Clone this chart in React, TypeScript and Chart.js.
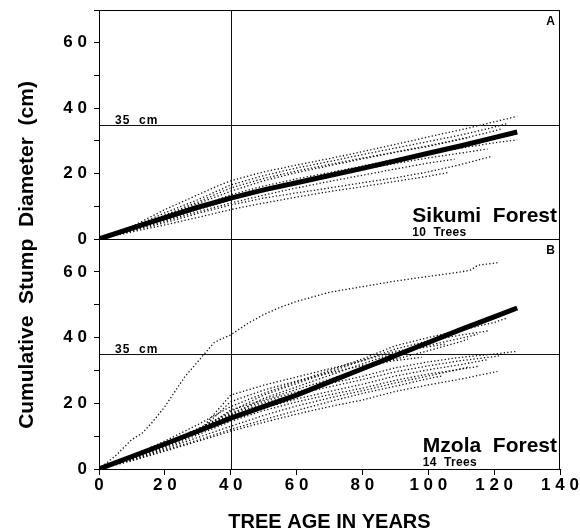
import React, { useEffect, useRef } from 'react';
import { Chart, registerables } from 'chart.js';

Chart.register(...registerables);

type Pt = [number, number];

// ---- axis ticks ----
const xTickValues = [0, 20, 40, 60, 80, 100, 120, 140];
const xTickLabels = ['0', '2 0', '4 0', '6 0', '8 0', '1 0 0', '1 2 0', '1 4 0'];
const yTickValues = [0, 20, 40, 60];
const yTickLabels = ['0', '2 0', '4 0', '6 0'];

// ---- reference lines ----
const referenceAge = 40;
const referenceDiameter = 35;
const referenceLabel = '35  cm';

// ---- titles ----
const yTitle = 'Cumulative  Stump  Diameter  (cm)';
const xTitle = 'TREE AGE IN YEARS';

// ---- Panel A: Sikumi Forest ----
const sikumiLetter = 'A';
const sikumiName = 'Sikumi  Forest';
const sikumiCount = '10  Trees';
const sikumiMean: Pt[] = [[0, 0], [10, 3.3], [20, 6.5], [30, 9.7], [40, 12.5], [50, 15], [60, 17.2], [70, 19.4], [80, 21.6], [90, 23.9], [100, 26.2], [110, 28.5], [120, 31], [127, 32.7]];
const sikumiTree1: Pt[] = [[0, 0], [10, 3.8], [20, 9], [30, 13.5], [36, 16.2], [40, 17.8], [50, 20.5], [60, 22.6], [70, 24.6], [80, 26.7], [90, 28.9], [100, 31.2], [110, 33.4], [120, 35.8], [127, 37.5]];
const sikumiTree2: Pt[] = [[0, 0], [10, 3.5], [20, 8], [30, 12], [40, 16.5], [50, 19.4], [60, 21.7], [70, 23.7], [80, 25.8], [90, 27.8], [100, 29.8], [110, 31.8], [120, 34.2], [124, 35.3]];
const sikumiTree3: Pt[] = [[0, 0], [10, 3], [20, 7.3], [30, 11.3], [40, 15.6], [50, 18.5], [60, 20.8], [70, 22.8], [80, 24.7], [90, 26.6], [100, 28.5], [110, 30.6], [120, 33], [122, 33.6]];
const sikumiTree4: Pt[] = [[0, 0], [10, 2.8], [20, 6.2], [30, 9.8], [40, 13.5], [50, 16.2], [60, 18.4], [70, 20.3], [80, 22.3], [90, 24.4], [100, 26.2], [110, 27.8], [120, 29.4], [127, 30.3]];
const sikumiTree5: Pt[] = [[0, 0], [10, 3], [20, 6.5], [30, 9.5], [40, 12.8], [50, 15.4], [60, 17.6], [70, 19.5], [80, 21.3], [90, 23.1], [100, 24.8], [110, 26.3], [118, 27.5]];
const sikumiTree6: Pt[] = [[0, 0], [10, 2.5], [20, 5], [30, 7.8], [40, 10.4], [50, 12.5], [60, 14.1], [70, 15.6], [80, 17.2], [90, 18.7], [100, 20.5], [110, 22.8], [119, 25.2]];
const sikumiTree7: Pt[] = [[0, 0], [10, 3.3], [20, 7], [30, 10.8], [40, 14.6], [50, 17.8], [60, 20.3], [70, 22.4], [80, 24.5], [90, 26.5], [100, 28.3], [110, 30.5], [112, 31]];
const sikumiTree8: Pt[] = [[0, 0], [10, 2.7], [20, 5.8], [30, 9], [40, 12], [50, 14.8], [60, 17.3], [70, 19.6], [80, 21.8], [90, 24], [100, 26.5], [105, 27.8]];
const sikumiTree9: Pt[] = [[0, 0], [10, 2.2], [20, 4.3], [30, 6.6], [40, 9], [50, 11], [60, 12.8], [70, 14.5], [80, 16], [90, 17.6], [100, 19.2], [106, 20.3]];
const sikumiTree10: Pt[] = [[0, 0], [10, 2.6], [20, 5.5], [30, 8.3], [40, 11], [50, 13.4], [60, 15.6], [70, 17.6], [80, 19.5], [90, 21.4], [100, 23.2], [108, 24.4]];
const sikumiTrees: Pt[][] = [sikumiTree1, sikumiTree2, sikumiTree3, sikumiTree4, sikumiTree5, sikumiTree6, sikumiTree7, sikumiTree8, sikumiTree9, sikumiTree10];

// ---- Panel B: Mzola Forest ----
const mzolaLetter = 'B';
const mzolaName = 'Mzola  Forest';
const mzolaCount = '14  Trees';
const mzolaMean: Pt[] = [[0, 0], [10, 3.8], [20, 7.6], [30, 11.5], [40, 15.5], [50, 19], [60, 22.5], [70, 26.5], [80, 30.5], [90, 34.5], [100, 38.5], [110, 42.5], [120, 46.3], [127, 49]];
const mzolaTree1: Pt[] = [[0, 0], [5, 4], [10, 9], [13, 10.8], [16, 14], [20, 19], [23, 23.5], [26, 28], [29, 31.5], [32, 35], [35, 38.5], [37, 39.5], [40, 40.8], [45, 44.2], [50, 47], [55, 49.2], [60, 51], [70, 53.8], [80, 55.5], [90, 57.2], [100, 58.6], [110, 60], [113, 60.6], [115, 62], [121, 62.8]];
const mzolaTree2: Pt[] = [[0, 0], [10, 4], [20, 8.5], [30, 13.5], [40, 19], [50, 23], [60, 26.5], [70, 30], [80, 33.5], [90, 37.5], [100, 40], [110, 42.3], [120, 44.6], [124, 46]];
const mzolaTree3: Pt[] = [[0, 0], [10, 3.6], [20, 7.8], [30, 12], [40, 17.5], [50, 22.5], [60, 26], [70, 29.5], [80, 33], [90, 36.5], [100, 39], [110, 40.8], [118, 42]];
const mzolaTree4: Pt[] = [[0, 0], [10, 3.5], [20, 7.5], [30, 11.5], [40, 16.5], [50, 21.5], [60, 25], [70, 28.5], [80, 32], [90, 35.3], [100, 37.6], [110, 39.8], [115, 41]];
const mzolaTree5: Pt[] = [[0, 0], [10, 3.3], [20, 7], [30, 11], [40, 18], [50, 21], [60, 24.2], [70, 27.3], [80, 30.5], [90, 33.4], [100, 36], [110, 38.8], [112, 39.5]];
const mzolaTree6: Pt[] = [[0, 0], [10, 3.6], [20, 7.8], [30, 12.3], [40, 17], [50, 20.6], [60, 23.5], [70, 26], [80, 28.2], [90, 30.8], [100, 32.6], [110, 34], [120, 35], [127, 35.8]];
const mzolaTree7: Pt[] = [[0, 0], [10, 3.5], [20, 7.5], [30, 12], [40, 16.5], [50, 20], [60, 22.8], [70, 25], [80, 27.2], [90, 29.6], [100, 31.4], [110, 33], [120, 34.2], [122, 34.5]];
const mzolaTree8: Pt[] = [[0, 0], [10, 3.2], [20, 7], [30, 11], [40, 15], [50, 18.5], [60, 21.3], [70, 23.6], [80, 25.8], [90, 28.3], [100, 30.2], [110, 31.8], [118, 33.3]];
const mzolaTree9: Pt[] = [[0, 0], [10, 2.8], [20, 6.2], [30, 9.6], [40, 13], [50, 16.3], [60, 19.2], [70, 21.6], [80, 23.8], [90, 26.2], [100, 28.3], [110, 30.5], [112, 31]];
const mzolaTree10: Pt[] = [[0, 0], [10, 3.2], [20, 7], [30, 11], [40, 20.5], [50, 24], [60, 26.8], [70, 29.2], [80, 31.5], [90, 33], [98, 34]];
const mzolaTree11: Pt[] = [[0, 0], [10, 2.5], [20, 5.4], [30, 8.4], [40, 11.5], [50, 14.2], [60, 16.7], [70, 19], [80, 21], [90, 23.6], [100, 25.6], [110, 27.4], [121, 29.7]];
const mzolaTree12: Pt[] = [[0, 0], [10, 3.4], [20, 7.2], [30, 11], [40, 22.5], [50, 25.5], [60, 28], [70, 30.5], [80, 33], [90, 35.8], [100, 37.2], [105, 38]];
const mzolaTree13: Pt[] = [[0, 0], [10, 3], [20, 6.5], [30, 10.4], [40, 14.5], [50, 17.8], [60, 20.4], [70, 22.6], [80, 24.6], [90, 27], [100, 28.9], [110, 30.4], [115, 31.2]];
const mzolaTree14: Pt[] = [[0, 0], [10, 2.7], [20, 5.8], [30, 8.8], [40, 12], [50, 15], [60, 17.8], [70, 20.5], [80, 23], [90, 25.2], [100, 27.5], [104, 28.3]];
const mzolaTrees: Pt[][] = [mzolaTree1, mzolaTree2, mzolaTree3, mzolaTree4, mzolaTree5, mzolaTree6, mzolaTree7, mzolaTree8, mzolaTree9, mzolaTree10, mzolaTree11, mzolaTree12, mzolaTree13, mzolaTree14];

const FONT = '"Liberation Sans", Arial, Helvetica, sans-serif';
const W = 580;
const H = 532;

type Panel = {
  letter: string;
  name: string;
  count: string;
  mean: Pt[];
  trees: Pt[][];
  top: number;
  bottom: number;
  showX: boolean;
  drawTitles: boolean;
};

function decorPlugin(p: Panel) {
  return {
    id: 'panelDecor',
    beforeDatasetsDraw(chart: any) {
      const { ctx, chartArea: a, scales } = chart;
      const xr = Math.round(scales.x.getPixelForValue(referenceAge)) + 0.5;
      const yr = Math.round(scales.y.getPixelForValue(referenceDiameter)) + 0.5;
      ctx.save();
      ctx.strokeStyle = '#111';
      ctx.lineWidth = 1;
      ctx.beginPath();
      ctx.moveTo(xr, a.top);
      ctx.lineTo(xr, a.bottom);
      ctx.moveTo(a.left, yr);
      ctx.lineTo(a.right, yr);
      ctx.stroke();
      ctx.strokeStyle = '#000';
      ctx.strokeRect(Math.round(a.left) + 0.5, Math.round(a.top) + 0.5, Math.round(a.right - a.left) - 1, Math.round(a.bottom - a.top));
      // 35 cm label
      ctx.fillStyle = '#000';
      ctx.font = `bold 12px ${FONT}`;
      (ctx as any).letterSpacing = '1px';
      ctx.textAlign = 'left';
      ctx.textBaseline = 'alphabetic';
      ctx.fillText(referenceLabel, a.left + 16, yr - 2);
      ctx.restore();
    },
    afterDraw(chart: any) {
      const { ctx, chartArea: a } = chart;
      ctx.save();
      ctx.fillStyle = '#000';
      ctx.textBaseline = 'alphabetic';
      (ctx as any).letterSpacing = '0px';
      // panel letter
      ctx.font = `bold 12px ${FONT}`;
      ctx.textAlign = 'right';
      ctx.fillText(p.letter, a.right - 5, a.top + 15);
      // forest name
      ctx.font = `bold 21px ${FONT}`;
      ctx.textAlign = 'right';
      const nameRight = a.right - 3;
      const nameBase = a.bottom - 17;
      ctx.fillText(p.name, nameRight, nameBase);
      const nw = ctx.measureText(p.name).width;
      ctx.font = `bold 12px ${FONT}`;
      (ctx as any).letterSpacing = '0.3px';
      ctx.textAlign = 'left';
      ctx.fillText(p.count, nameRight - nw, a.bottom - 3);
      (ctx as any).letterSpacing = '0px';
      if (p.drawTitles) {
        ctx.font = `bold 20px ${FONT}`;
        ctx.textAlign = 'center';
        ctx.fillText(xTitle, (a.left + a.right) / 2, H - 4);
        ctx.save();
        ctx.translate(33, a.bottom - 214);
        ctx.rotate(-Math.PI / 2);
        ctx.font = `bold 21px ${FONT}`;
        ctx.textAlign = 'center';
        ctx.fillText(yTitle, 0, 0);
        ctx.restore();
      }
      ctx.restore();
    },
  };
}

function makeConfig(p: Panel): any {
  const datasets: any[] = [
    {
      data: p.mean.map(([x, y]) => ({ x, y })),
      borderColor: '#000',
      borderWidth: 5,
      pointRadius: 0,
      tension: 0,
      borderCapStyle: 'butt',
    },
    ...p.trees.map((t) => ({
      data: t.map(([x, y]) => ({ x, y })),
      borderColor: '#111',
      borderWidth: 1.3,
      borderDash: [1.3, 2.2],
      pointRadius: 0,
      tension: 0,
    })),
  ];
  const xScale: any = {
    type: 'linear',
    min: 0,
    max: 140,
    display: p.showX,
    ticks: {
      stepSize: 20,
      autoSkip: false,
      maxRotation: 0,
      padding: 0,
      color: '#000',
      font: { family: FONT, size: 17, weight: 'bold' },
      callback: (v: number) => {
        const i = xTickValues.indexOf(v);
        return i >= 0 ? xTickLabels[i] : '';
      },
    },
    grid: { display: true, drawOnChartArea: false, drawTicks: true, tickLength: 6, color: '#000' },
    border: { display: false },
  };
  if (p.showX) {
    xScale.afterFit = (s: any) => { s.height = H - p.bottom; };
  }
  return {
    type: 'line',
    data: { datasets },
    plugins: [decorPlugin(p)],
    options: {
      responsive: false,
      animation: false,
      devicePixelRatio: 1,
      layout: { padding: { top: p.top, right: 20, bottom: p.showX ? 0 : H - p.bottom, left: 0 } },
      plugins: { legend: { display: false }, tooltip: { enabled: false }, title: { display: false } },
      scales: {
        x: xScale,
        y: {
          type: 'linear',
          min: 0,
          max: 70,
          afterFit: (s: any) => {
            s.width = 99;
            s.paddingTop = 0;
            s.paddingBottom = 0;
          },
          ticks: {
            stepSize: 10,
            autoSkip: false,
            padding: 7,
            color: '#000',
            font: { family: FONT, size: 17, weight: 'bold' },
            callback: (v: number) => {
              const i = yTickValues.indexOf(v);
              return i >= 0 ? yTickLabels[i] : '';
            },
          },
          grid: { display: true, drawOnChartArea: false, drawTicks: true, tickLength: 5, color: '#000' },
          border: { display: false },
        },
      },
    },
  };
}

export default function App() {
  const refA = useRef<HTMLCanvasElement>(null);
  const refB = useRef<HTMLCanvasElement>(null);
  useEffect(() => {
    const panelA: Panel = { letter: sikumiLetter, name: sikumiName, count: sikumiCount, mean: sikumiMean, trees: sikumiTrees, top: 10, bottom: 239, showX: false, drawTitles: false };
    const panelB: Panel = { letter: mzolaLetter, name: mzolaName, count: mzolaCount, mean: mzolaMean, trees: mzolaTrees, top: 239, bottom: 469, showX: true, drawTitles: true };
    const cb = new Chart(refB.current!, makeConfig(panelB));
    const ca = new Chart(refA.current!, makeConfig(panelA));
    return () => {
      ca.destroy();
      cb.destroy();
    };
  }, []);
  return (
    <div style={{ position: 'absolute', left: 0, top: 0, width: W, height: H, background: '#fff' }}>
      <canvas ref={refB} width={W} height={H} style={{ position: 'absolute', left: 0, top: 0 }} />
      <canvas ref={refA} width={W} height={H} style={{ position: 'absolute', left: 0, top: 0 }} />
    </div>
  );
}
